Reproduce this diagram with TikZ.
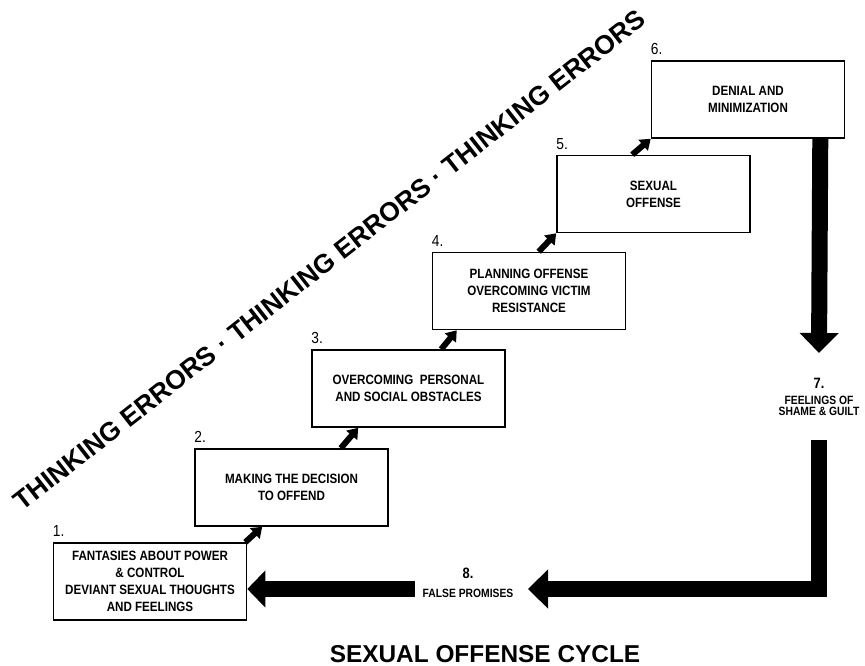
\documentclass[tikz,border=0pt]{standalone}
\usepackage{fontspec}
\setmainfont{Liberation Sans}
\newfontfamily\condfont[FakeStretch=0.86]{Liberation Sans}
\usetikzlibrary{arrows.meta}
\tikzset{
  stagebox/.style={draw, line width=1.6pt, minimum width=193pt, minimum height=77pt,
    inner sep=0pt, align=center, font=\condfont\bfseries\fontsize{13.5pt}{17pt}\selectfont},
  numlabel/.style={anchor=base west, inner sep=0pt, font=\condfont\fontsize{16pt}{16pt}\selectfont},
  sidenum/.style={anchor=base, inner sep=0pt, font=\condfont\bfseries\fontsize{15pt}{15pt}\selectfont},
  smalltxt/.style={anchor=base, inner sep=0pt, font=\condfont\bfseries\fontsize{12pt}{12pt}\selectfont},
  smallarrow/.style={line width=6pt, -{Triangle[width=14pt,length=10pt]}},
  bigarrow/.style={line width=16pt, line join=miter, -{Triangle[width=38pt,length=20pt]}}
}
\begin{document}
\begin{tikzpicture}[x=1pt,y=-1pt]
\useasboundingbox (0,0) rectangle (865,666);

% stage boxes
\node[stagebox] (b1) at (150,581.5) {FANTASIES ABOUT POWER\\\& CONTROL\\DEVIANT SEXUAL THOUGHTS\\AND FEELINGS};
\node[stagebox] (b2) at (291.5,487.5) {MAKING THE DECISION\\TO OFFEND};
\node[stagebox] (b3) at (408.5,388.5) {OVERCOMING\ \ PERSONAL\\AND SOCIAL OBSTACLES};
\node[stagebox] (b4) at (529,291) {PLANNING OFFENSE\\OVERCOMING VICTIM\\RESISTANCE};
\node[stagebox] (b5) at (653.5,194) {SEXUAL\\OFFENSE};
\node[stagebox] (b6) at (748,99.5) {DENIAL AND\\MINIMIZATION};

% numbers
\node[numlabel] (n1) at ([yshift=5.5pt]b1.north west) {1.};
\node[numlabel] (n2) at ([yshift=5.5pt]b2.north west) {2.};
\node[numlabel] (n3) at ([yshift=5.5pt]b3.north west) {3.};
\node[numlabel] (n4) at ([yshift=5.5pt]b4.north west) {4.};
\node[numlabel] (n5) at ([yshift=5.5pt]b5.north west) {5.};
\node[numlabel] (n6) at ([yshift=5.5pt]b6.north west) {6.};

% step arrows
\draw[smallarrow] ([xshift=-2pt]b1.north east) -- ([xshift=68pt]b2.south west);
\draw[smallarrow] ([xshift=-48pt]b2.north east) -- ([xshift=47pt]b3.south west);
\draw[smallarrow] ([xshift=130pt]b3.north west) -- ([xshift=25pt]b4.south west);
\draw[smallarrow] ([xshift=107pt]b4.north west) -- (b5.south west);
\draw[smallarrow] ([xshift=76pt]b5.north west) -- (b6.south west);

% stage 7
\node[sidenum] (n7) at (819,388) {7.};
\node[smalltxt] (t7a) at (819,404) {FEELINGS OF};
\node[smalltxt] (t7b) at (819,415) {SHAME \& GUILT};

% stage 8
\node[sidenum] (n8) at (468,578) {8.};
\node[smalltxt] (t8) at (468,597) {FALSE PROMISES};

% big arrows
\coordinate (tipA) at (819,353);
\draw[bigarrow] ([xshift=-25pt]b6.south east) -- (tipA);
\coordinate (startB) at (819,440);
\coordinate (cornerB) at (819,589);
\coordinate (tipB) at (528,589);
\draw[bigarrow] (startB) -- (cornerB) -- (tipB);
\coordinate (startC) at (415,589);
\draw[line width=16pt, -{Triangle[width=36pt,length=18pt]}] (startC) -- ([yshift=-7.5pt]b1.east);

% diagonal text
\node[rotate=38, inner sep=0pt, font=\bfseries\fontsize{26.5pt}{26.5pt}\selectfont] (te) at (329.5,260)
  {THINKING ERRORS · THINKING ERRORS · THINKING ERRORS};

% title
\node[anchor=base, inner sep=0pt, font=\bfseries\fontsize{24.4pt}{24.4pt}\selectfont] (title) at (485,662)
  {SEXUAL OFFENSE CYCLE};
\end{tikzpicture}
\end{document}
